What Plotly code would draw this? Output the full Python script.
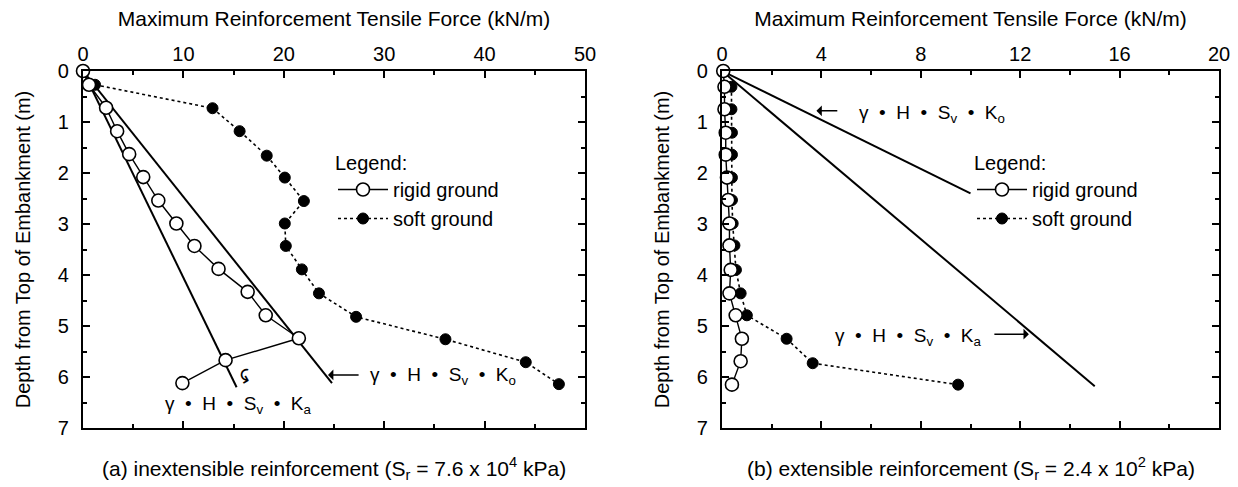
import plotly.graph_objects as go

FONT = "Liberation Sans, Arial, sans-serif"

# ---------------- Panel (a): inextensible reinforcement ----------------
a_rigid_depth = [0.0, 0.27, 0.72, 1.18, 1.63, 2.08, 2.54, 2.99, 3.43, 3.88, 4.33, 4.79, 5.24, 5.67, 6.12]
a_rigid_force = [0.0, 0.6, 2.3, 3.4, 4.6, 6.0, 7.5, 9.3, 11.1, 13.5, 16.4, 18.2, 21.5, 14.2, 9.9]
a_soft_depth = [0.27, 0.73, 1.18, 1.66, 2.09, 2.55, 2.99, 3.43, 3.89, 4.36, 4.82, 5.26, 5.71, 6.14]
a_soft_force = [1.2, 12.9, 15.6, 18.3, 20.1, 22.0, 20.1, 20.2, 21.8, 23.5, 27.2, 36.1, 44.1, 47.4]
a_ko_depth = [0.0, 6.12]
a_ko_force = [0.0, 24.8]
a_ka_depth = [0.0, 6.2]
a_ka_force = [0.0, 15.3]

# ---------------- Panel (b): extensible reinforcement ----------------
b_rigid_depth = [0.0, 0.31, 0.75, 1.21, 1.64, 2.09, 2.53, 2.99, 3.42, 3.90, 4.36, 4.79, 5.25, 5.69, 6.15]
b_rigid_force = [0.05, 0.1, 0.1, 0.15, 0.15, 0.2, 0.25, 0.3, 0.3, 0.35, 0.3, 0.55, 0.8, 0.75, 0.4]
b_soft_depth = [0.31, 0.75, 1.21, 1.64, 2.09, 2.53, 2.99, 3.42, 3.90, 4.36, 4.79, 5.25, 5.73, 6.15]
b_soft_force = [0.38, 0.38, 0.4, 0.4, 0.4, 0.4, 0.43, 0.5, 0.56, 0.75, 1.0, 2.6, 3.65, 9.5]
b_ko_depth = [0.0, 2.4]
b_ko_force = [0.0, 10.0]
b_ka_depth = [0.0, 6.18]
b_ka_force = [0.0, 15.0]

x_title = "Maximum Reinforcement Tensile Force (kN/m)"
y_title = "Depth from Top of Embankment (m)"
ko_label = "γ  •  H  •  S<sub>v</sub>  •  K<sub>o</sub>"
ka_label = "γ  •  H  •  S<sub>v</sub>  •  K<sub>a</sub>"
cap_a = "(a) inextensible reinforcement (S<sub>r</sub> = 7.6 x 10<sup>4</sup> kPa)"
cap_b = "(b) extensible reinforcement (S<sub>r</sub> = 2.4 x 10<sup>2</sup> kPa)"

fig = go.Figure()

open_marker = dict(symbol="circle", size=13, color="white", line=dict(color="black", width=1.6))
fill_marker = dict(symbol="circle", size=11, color="black", line=dict(color="black", width=1))

# panel a
fig.add_trace(go.Scatter(x=a_ko_force, y=a_ko_depth, mode="lines", line=dict(color="black", width=2),
                         showlegend=False, xaxis="x", yaxis="y"))
fig.add_trace(go.Scatter(x=a_ka_force, y=a_ka_depth, mode="lines", line=dict(color="black", width=2),
                         showlegend=False, xaxis="x", yaxis="y"))
fig.add_trace(go.Scatter(x=a_soft_force, y=a_soft_depth, mode="lines+markers", name="soft ground",
                         line=dict(color="black", width=1.6, dash="dot"), marker=fill_marker,
                         legend="legend", legendrank=2, cliponaxis=False, xaxis="x", yaxis="y"))
fig.add_trace(go.Scatter(x=a_rigid_force, y=a_rigid_depth, mode="lines+markers", name="rigid ground",
                         line=dict(color="black", width=1.4), marker=open_marker,
                         legend="legend", legendrank=1, cliponaxis=False, xaxis="x", yaxis="y"))

# panel b
fig.add_trace(go.Scatter(x=b_ko_force, y=b_ko_depth, mode="lines", line=dict(color="black", width=2),
                         showlegend=False, xaxis="x2", yaxis="y2"))
fig.add_trace(go.Scatter(x=b_ka_force, y=b_ka_depth, mode="lines", line=dict(color="black", width=2),
                         showlegend=False, xaxis="x2", yaxis="y2"))
fig.add_trace(go.Scatter(x=b_soft_force, y=b_soft_depth, mode="lines+markers", name="soft ground",
                         line=dict(color="black", width=1.6, dash="dot"), marker=fill_marker,
                         legend="legend2", legendrank=2, cliponaxis=False, xaxis="x2", yaxis="y2"))
fig.add_trace(go.Scatter(x=b_rigid_force, y=b_rigid_depth, mode="lines+markers", name="rigid ground",
                         line=dict(color="black", width=1.4), marker=open_marker,
                         legend="legend2", legendrank=1, cliponaxis=False, xaxis="x2", yaxis="y2"))


def xax(domain, rng, dtick, minor, anchor):
    return dict(domain=domain, range=rng, dtick=dtick, side="top", anchor=anchor,
                showline=True, linecolor="black", linewidth=2.2, mirror="ticks",
                ticks="inside", ticklen=7, tickwidth=2, tickcolor="black",
                minor=dict(ticks="inside", dtick=minor, ticklen=4, tickwidth=1.5, tickcolor="black"),
                showgrid=False, zeroline=False, automargin=False,
                tickfont=dict(size=20, family=FONT, color="black"),
                title=dict(text=x_title, font=dict(size=21, family=FONT, color="black"), standoff=11))


def yax(domain, anchor):
    return dict(domain=domain, range=[7, 0], dtick=1, anchor=anchor,
                showline=True, linecolor="black", linewidth=2.2, mirror="ticks",
                ticks="inside", ticklen=7, tickwidth=2, tickcolor="black",
                minor=dict(ticks="inside", dtick=0.5, ticklen=4, tickwidth=1.5, tickcolor="black"),
                showgrid=False, zeroline=False, automargin=False, ticklabelstandoff=8,
                tickfont=dict(size=20, family=FONT, color="black"),
                title=dict(text=y_title, font=dict(size=20, family=FONT, color="black"), standoff=22))


W, H = 1238, 487
ydom = [59 / H, 416 / H]
fig.update_layout(
    width=W, height=H, margin=dict(l=0, r=0, t=0, b=0),
    paper_bgcolor="white", plot_bgcolor="white",
    font=dict(family=FONT, color="black"),
    xaxis=xax([83 / W, 585 / W], [0, 50], 10, 5, "y"),
    yaxis=yax(ydom, "x"),
    xaxis2=xax([722 / W, 1219 / W], [0, 20], 4, 2, "y2"),
    yaxis2=yax(ydom, "x2"),
    legend=dict(x=333 / W, y=(H - 144) / H, xanchor="left", yanchor="top",
                title=dict(text="Legend:", font=dict(size=20, family=FONT)),
                font=dict(size=20, family=FONT), bgcolor="rgba(0,0,0,0)", itemwidth=50, tracegroupgap=0),
    legend2=dict(x=972 / W, y=(H - 144) / H, xanchor="left", yanchor="top",
                 title=dict(text="Legend:", font=dict(size=20, family=FONT)),
                 font=dict(size=20, family=FONT), bgcolor="rgba(0,0,0,0)", itemwidth=50, tracegroupgap=0),
)

ann = []
# panel a labels
ann.append(dict(x=24.4, y=5.96, ax=27.6, ay=5.96, xref="x", yref="y", axref="x", ayref="y",
                text="", showarrow=True, arrowhead=1, arrowsize=1.2, arrowwidth=1.5, arrowcolor="black"))
ann.append(dict(x=28.4, y=5.98, xref="x", yref="y", text=ko_label, showarrow=False,
                xanchor="left", yanchor="middle", font=dict(size=19, family=FONT)))
ann.append(dict(x=15.5, y=6.55, xref="x", yref="y", text=ka_label, showarrow=False,
                xanchor="center", yanchor="middle", font=dict(size=19, family=FONT)))
ann.append(dict(x=16.3, y=5.98, xref="x", yref="y", text="↶", showarrow=False, textangle=-75,
                xanchor="center", yanchor="middle", font=dict(size=20, family="DejaVu Sans")))
# panel b labels
ann.append(dict(x=3.8, y=0.78, ax=4.7, ay=0.78, xref="x2", yref="y2", axref="x2", ayref="y2",
                text="", showarrow=True, arrowhead=1, arrowsize=1.2, arrowwidth=1.5, arrowcolor="black"))
ann.append(dict(x=5.45, y=0.84, xref="x2", yref="y2", text=ko_label, showarrow=False,
                xanchor="left", yanchor="middle", font=dict(size=19, family=FONT)))
ann.append(dict(x=12.35, y=5.16, ax=10.9, ay=5.16, xref="x2", yref="y2", axref="x2", ayref="y2",
                text="", showarrow=True, arrowhead=1, arrowsize=1.2, arrowwidth=1.5, arrowcolor="black"))
ann.append(dict(x=10.55, y=5.22, xref="x2", yref="y2", text=ka_label, showarrow=False,
                xanchor="right", yanchor="middle", font=dict(size=19, family=FONT)))
# captions
ann.append(dict(x=334 / W, y=(H - 468) / H, xref="paper", yref="paper", text=cap_a, showarrow=False,
                xanchor="center", yanchor="middle", font=dict(size=21, family=FONT)))
ann.append(dict(x=971 / W, y=(H - 468) / H, xref="paper", yref="paper", text=cap_b, showarrow=False,
                xanchor="center", yanchor="middle", font=dict(size=21, family=FONT)))
fig.update_layout(annotations=ann)

fig.write_html("out.html")
